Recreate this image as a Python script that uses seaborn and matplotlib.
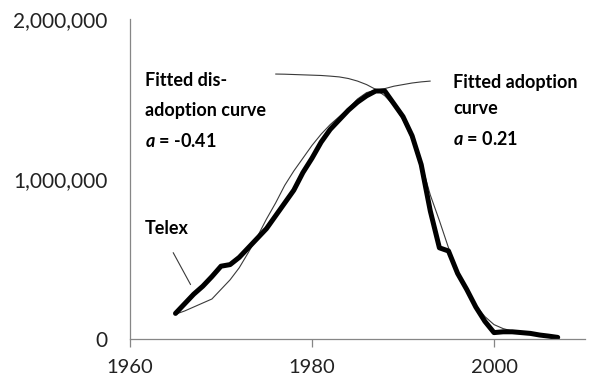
import matplotlib
matplotlib.use("Agg")
import matplotlib.pyplot as plt
import seaborn as sns
import pandas as pd
import numpy as np

# ---- data ----
telex_years = list(range(1965, 2008))
telex_values = [0.16, 0.22, 0.28, 0.33, 0.39, 0.455, 0.465, 0.51, 0.57, 0.63,
                0.69, 0.77, 0.85, 0.93, 1.04, 1.13, 1.23, 1.31, 1.37, 1.43,
                1.48, 1.52, 1.55, 1.55, 1.47, 1.39, 1.27, 1.09, 0.80, 0.57,
                0.55, 0.41, 0.31, 0.20, 0.11, 0.04, 0.045, 0.045, 0.04, 0.035,
                0.025, 0.018, 0.01]

adopt_years = list(range(1965, 1994))
adopt_values = [0.155, 0.175, 0.20, 0.225, 0.25, 0.31, 0.37, 0.445, 0.54, 0.64,
                0.75, 0.85, 0.96, 1.05, 1.13, 1.21, 1.28, 1.34, 1.39, 1.44,
                1.50, 1.54, 1.555, 1.565, 1.58, 1.59, 1.60, 1.607, 1.612]

disadopt_years = list(range(1976, 2005))
disadopt_values = [1.656, 1.655, 1.653, 1.651, 1.649, 1.647, 1.643, 1.638, 1.628, 1.612,
                   1.59, 1.56, 1.52, 1.46, 1.37, 1.25, 1.10, 0.90, 0.74, 0.57,
                   0.43, 0.31, 0.21, 0.14, 0.09, 0.065, 0.05, 0.04, 0.035]

x_ticks = [1960, 1980, 2000]
y_ticks = [0, 1000000, 2000000]
y_tick_labels = ["0", "1,000,000", "2,000,000"]

telex = pd.DataFrame({"year": telex_years, "users": np.array(telex_values) * 1e6})
adopt = pd.DataFrame({"year": adopt_years, "users": np.array(adopt_values) * 1e6})
disadopt = pd.DataFrame({"year": disadopt_years, "users": np.array(disadopt_values) * 1e6})

sns.set_theme(style="white")
plt.rcParams["font.family"] = ["Lato", "DejaVu Sans"]
plt.rcParams["mathtext.fontset"] = "custom"
plt.rcParams["mathtext.it"] = "Lato:italic:bold"
plt.rcParams["mathtext.rm"] = "Lato:bold"

fig = plt.figure(figsize=(6.15, 3.81), dpi=100)
ax = fig.add_axes([130 / 615, 1 - 339 / 381, 455 / 615, 320 / 381])

sns.lineplot(data=adopt, x="year", y="users", ax=ax, color="#3a3a3a", linewidth=0.8)
sns.lineplot(data=disadopt, x="year", y="users", ax=ax, color="#3a3a3a", linewidth=0.8)
sns.lineplot(data=telex, x="year", y="users", ax=ax, color="black", linewidth=3.6,
             solid_capstyle="round", solid_joinstyle="round")

ax.set_xlim(1960, 2010)
ax.set_ylim(0, 2000000)
ax.set_xticks(x_ticks)
ax.set_xticklabels([str(t) for t in x_ticks])
ax.set_yticks(y_ticks)
ax.set_yticklabels(y_tick_labels)
ax.set_xlabel("")
ax.set_ylabel("")

for side in ["top", "right"]:
    ax.spines[side].set_visible(False)
for side in ["left", "bottom"]:
    ax.spines[side].set_color("#868686")
    ax.spines[side].set_linewidth(0.9)

ax.tick_params(axis="x", direction="out", length=6, width=0.9, color="#868686",
               pad=8.5, labelsize=14.5, labelcolor="#222222", bottom=True)
ax.tick_params(axis="y", length=0, pad=16, labelsize=15, labelcolor="#222222", left=True)

# annotations
txt_kw = dict(fontsize=13, fontweight="bold", color="black", va="center", ha="left")
ax.text(1961.6, 1.615e6, "Fitted dis-", **txt_kw)
ax.text(1961.6, 1.43e6, "adoption curve", **txt_kw)
ax.text(1961.6, 1.24e6, r"$a$" + " = -0.41", **txt_kw)

ax.text(1995.5, 1.605e6, "Fitted adoption", **txt_kw)
ax.text(1995.5, 1.44e6, "curve", **txt_kw)
ax.text(1995.5, 1.25e6, r"$a$" + " = 0.21", **txt_kw)

ax.text(1961.6, 0.69e6, "Telex", **txt_kw)
ax.annotate("", xy=(1966.8, 0.325e6), xytext=(1964.6, 0.555e6),
            arrowprops=dict(arrowstyle="-", color="#3a3a3a", linewidth=0.8))

fig.savefig("out.png", dpi=100)
